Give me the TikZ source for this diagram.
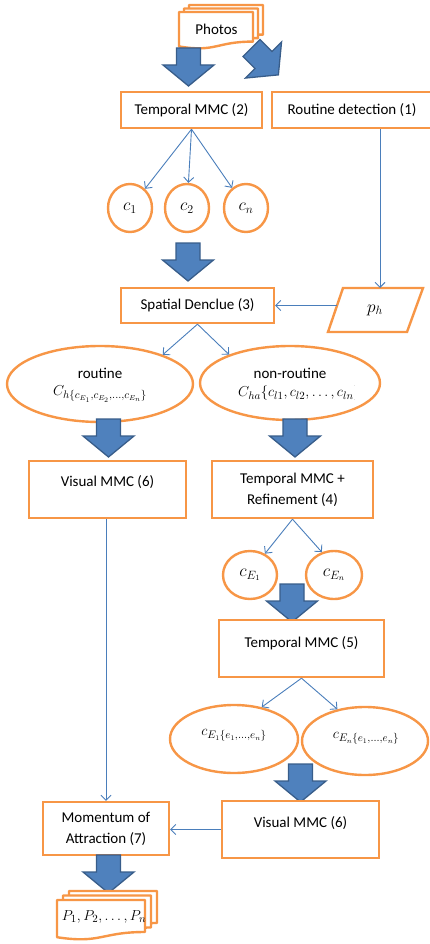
\documentclass[tikz,border=0pt]{standalone}
\usepackage{fontspec}
\setmainfont{Carlito}
\usetikzlibrary{arrows.meta,shapes.geometric,calc}

\definecolor{orng}{HTML}{F79646}
\definecolor{arrfill}{HTML}{4F81BD}
\definecolor{arrline}{HTML}{385D8A}
\definecolor{conncol}{HTML}{4A7EBB}

% one page of a stacked document: x, y (top left), width, height
\newcommand\docpage[4]{%
  \filldraw[docline] (#1,#2) -- ({#1+#3},#2) -- ({#1+#3},{#2+0.8*#4})
    .. controls ({#1+0.5*#3},{#2+0.8*#4}) and ({#1+0.5*#3},{#2+1.1*#4}) ..
    (#1,{#2+0.93*#4}) -- cycle;}

\tikzset{
  box/.style={draw=orng, line width=2.4pt, fill=white, rectangle, inner sep=0pt},
  oval/.style={draw=orng, line width=2.4pt, fill=white, ellipse, inner sep=0pt},
  txt/.style={font=\fontsize{15}{21}\selectfont, align=center, inner sep=0pt},
  mth/.style={font=\fontsize{17}{21}\selectfont, align=center, inner sep=0pt},
  conn/.style={draw=conncol, line width=0.9pt, -{Straight Barb[length=5pt,width=10pt]}},
  docline/.style={draw=orng, line width=2.4pt, fill=white, line join=round},
  bigarrow/.pic={
    \filldraw[fill=arrfill, draw=arrline, line width=1.3pt, line join=miter]
      (-12,0) -- (12,0) -- (12,17) -- (25.5,17) -- (0,38) -- (-25.5,17) -- (-12,17) -- cycle;}
}

\begin{document}
\begin{tikzpicture}[x=1pt,y=-1pt]
\useasboundingbox (0,0) rectangle (429,944);

% input photos
\docpage{189}{5}{74}{37}
\docpage{184}{8.5}{74}{37}
\docpage{179}{12}{74}{37}
\node[txt] (photos) at (216.5,29) {Photos};

\pic at (188.5,48) {bigarrow};
\pic[rotate=45] at (251.5,48) {bigarrow};

% first row
\node[box, txt, minimum width=141pt, minimum height=36pt] (t2) at (191.5,110) {Temporal MMC (2)};
\node[box, txt, minimum width=160pt, minimum height=36pt] (rd) at (352,110) {Routine detection (1)};

\node[oval, mth, minimum width=44pt, minimum height=48pt] (c1) at (130,208) {$c_1$};
\node[oval, mth, minimum width=44pt, minimum height=48pt] (c2) at (187,208) {$c_2$};
\node[oval, mth, minimum width=44pt, minimum height=48pt] (cn) at (246,208) {$c_n$};
\draw[conn] (t2.south) -- (c1);
\draw[conn] (t2.south) -- (c2);
\draw[conn] (t2.south) -- (cn);

\pic at (188,243) {bigarrow};

% spatial clustering and home location
\node[box, txt, minimum width=153pt, minimum height=35pt] (sd) at (197.5,305.5) {Spatial Denclue (3)};
\filldraw[docline, line join=miter] (343,288) -- (423,288) -- (407,332) -- (328,332) -- cycle;
\node[mth] (ph) at (375,310) {$p_h$};
\coordinate (phtop) at (380,288);
\coordinate (phleft) at (337,305.5);
\draw[conn] (rd.south -| phtop) -- (phtop);
\draw[conn] (phleft) -- (sd.east);

% routine / non-routine split
\node[oval, minimum width=186pt, minimum height=76pt] (rout) at (100,384) {};
\node[oval, minimum width=180pt, minimum height=74pt] (nr) at (290,383) {};
\draw[conn] (sd.south) -- (rout.25);
\draw[conn] (sd.south) -- (nr.155);
\node[txt] (routt) at (100,373) {routine};
\begin{scope}
  \clip (0,340) rectangle (200,402);
  \node[txt] (routm) at (100,394) {$C_{h\{c_{E_1},c_{E_2},\ldots,c_{E_n}\}}$};
\end{scope}
\node[txt] (nrt) at (290,373) {non-routine};
\begin{scope}
  \clip (200,340) rectangle (354,420);
  \node[txt, anchor=west] (nrm) at (238,393) {$C_{ha}\{c_{l1},c_{l2},\ldots,c_{ln}\}$};
\end{scope}

\pic at (108.5,419) {bigarrow};
\pic at (295,419) {bigarrow};

% routine branch
\node[box, minimum width=157pt, minimum height=57pt] (v1) at (107.5,489.5) {};
\node[txt] (v1t) at (107.5,482) {Visual MMC (6)};

% non-routine branch
\node[box, txt, minimum width=161pt, minimum height=57pt] (t4) at (292.5,489.5) {Temporal MMC +\\Refinement (4)};
\node[oval, mth, minimum width=54pt, minimum height=48pt] (ce1) at (250,575) {$c_{E_1}$};
\node[oval, mth, minimum width=56pt, minimum height=48pt] (cen) at (334,575) {$c_{E_n}$};
\draw[conn] (t4.south) -- (ce1.55);
\draw[conn] (t4.south) -- (cen.118);

\pic at (292,584) {bigarrow};

\node[box, minimum width=165pt, minimum height=57pt] (t5) at (301.5,648.5) {};
\node[txt] (t5t) at (301.5,643) {Temporal MMC (5)};

\node[oval, minimum width=128pt, minimum height=68pt] (ce1x) at (234,739) {};
\node[oval, minimum width=126pt, minimum height=68pt] (cenx) at (365,741) {};
\node[txt] (ce1xt) at (234,735) {$c_{E_1\{e_1,\ldots,e_n\}}$};
\node[txt] (cenxt) at (366,738) {$c_{E_n\{e_1,\ldots,e_n\}}$};
\draw[conn] (t5.south) -- (ce1x.49);
\draw[conn] (t5.south) -- (cenx.131);

\pic at (300.5,764) {bigarrow};

\node[box, minimum width=157pt, minimum height=57pt] (v2) at (300.5,829.5) {};
\node[txt] (v2t) at (300.5,823) {Visual MMC (6)};

% final ranking
\node[box, txt, minimum width=126pt, minimum height=53pt] (mom) at (106,828.5) {Momentum of\\Attraction (7)};
\draw[conn] (v1.south -| mom.north) -- (mom.north);
\draw[conn] (v2.west) -- (mom.east |- v2.west);

\pic at (108.5,855) {bigarrow};

\docpage{69}{891}{88}{40}
\docpage{63}{895.5}{88}{40}
\docpage{57}{900}{88}{40}
\node[txt] (plist) at (104,917) {$P_1,P_2,\ldots,P_n$};
\end{tikzpicture}
\end{document}
